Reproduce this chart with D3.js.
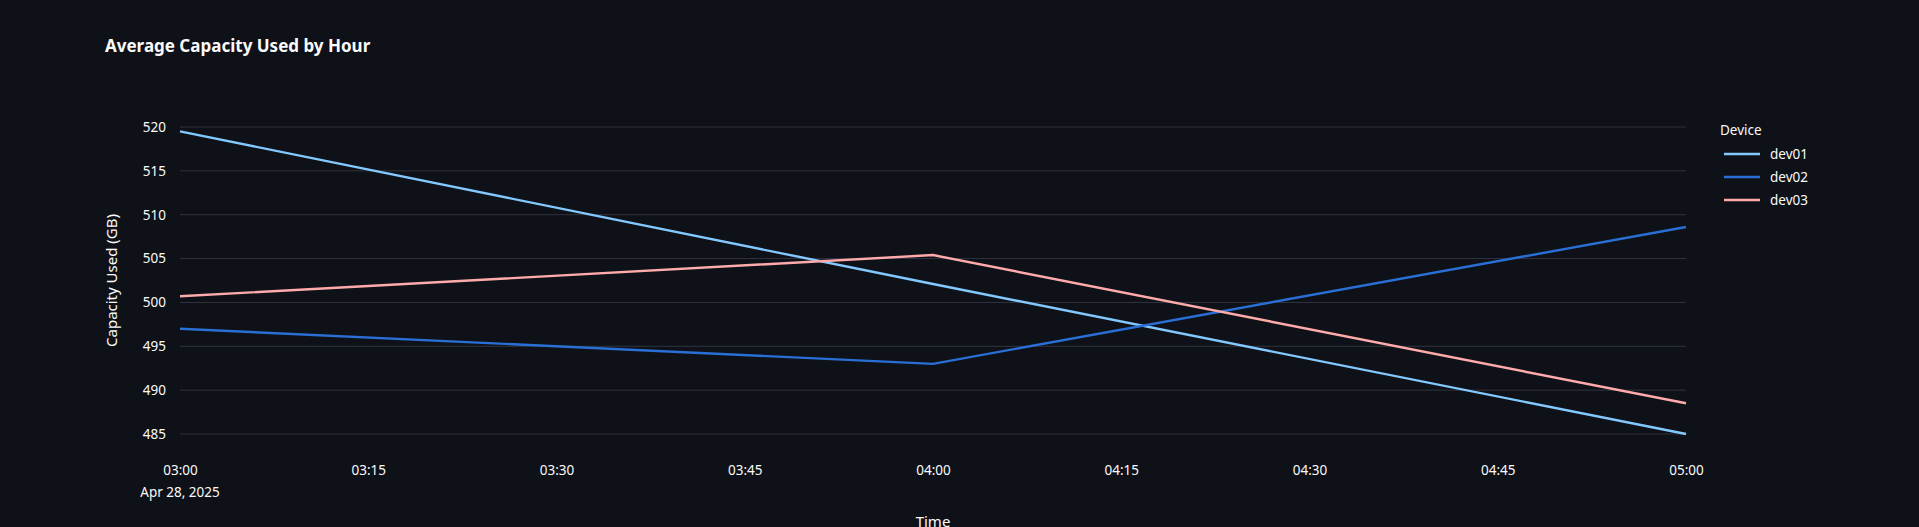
<!DOCTYPE html>
<html><head><meta charset="utf-8">
<script src="https://cdn.jsdelivr.net/npm/d3@7"></script>
<style>
body{margin:0;background:#0e1117;overflow:hidden}
text{font-family:"Noto Sans",sans-serif;fill:#fafafa}
</style></head><body>
<svg id="chart" width="1919" height="527"></svg>
<script>
var times = ["2025-04-28T03:00", "2025-04-28T04:00", "2025-04-28T05:00"];
var devices = ["dev01", "dev02", "dev03"];
var dev01 = [519.5, 502.1, 485.0];
var dev02 = [497.0, 493.0, 508.6];
var dev03 = [500.7, 505.4, 488.5];
var yTicks = [485, 490, 495, 500, 505, 510, 515, 520];
var colors = ["#83c9ff", "#2a6fd6", "#ffabab"];

var parse = d3.timeParse("%Y-%m-%dT%H:%M");
var series = [dev01, dev02, dev03];

var margin = {top: 127, left: 180, right: 1919 - 1686, bottom: 527 - 434};
var width = 1919 - margin.left - margin.right;
var height = 527 - margin.top - margin.bottom;

var svg = d3.select("#chart");
var g = svg.append("g").attr("transform", `translate(${margin.left},${margin.top})`);

var x = d3.scaleTime().domain(d3.extent(times, parse)).range([0, width]);
var y = d3.scaleLinear().domain([485, 520]).range([height, 0]);

// gridlines
g.selectAll(".grid").data(yTicks).enter().append("line")
    .attr("x1", 0).attr("x2", width)
    .attr("y1", d => y(d)).attr("y2", d => y(d))
    .attr("stroke", "#31333f").attr("stroke-width", 1);

// y axis
var yAxis = g.append("g").call(d3.axisLeft(y).tickValues(yTicks).tickSize(0).tickPadding(14));
yAxis.select(".domain").remove();
yAxis.selectAll("text").style("font-size", "13.5px").attr("fill", "#fafafa");

// x axis
var xTicks = d3.timeMinute.every(15).range(x.domain()[0], d3.timeMinute.offset(x.domain()[1], 1));
var xAxis = g.append("g").attr("transform", `translate(0,${height})`)
    .call(d3.axisBottom(x).tickValues(xTicks).tickFormat(d3.timeFormat("%H:%M")).tickSize(0).tickPadding(31));
xAxis.select(".domain").remove();
xAxis.selectAll("text").style("font-size", "13.5px").attr("fill", "#fafafa");
g.append("text").attr("x", 0).attr("y", height + 63).attr("text-anchor", "middle")
    .style("font-size", "13.5px").text("Apr 28, 2025");

// lines
var line = d3.line().x((d, i) => x(parse(times[i]))).y(d => y(d));
series.forEach(function(s, i) {
    g.append("path").datum(s).attr("d", line)
        .attr("fill", "none").attr("stroke", colors[i]).attr("stroke-width", 2.4);
});

// titles
svg.append("text").attr("x", 105).attr("y", 52).style("font-size", "17px")
    .style("font-weight", "bold").text("Average Capacity Used by Hour");
svg.append("text").attr("transform", `translate(117,${margin.top + height / 2}) rotate(-90)`)
    .attr("text-anchor", "middle").style("font-size", "15px").text("Capacity Used (GB)");
svg.append("text").attr("x", margin.left + width / 2).attr("y", 527).attr("text-anchor", "middle")
    .style("font-size", "15px").text("Time");

// legend
var legend = svg.append("g").attr("transform", "translate(1720,130)");
legend.append("text").attr("x", 0).attr("y", 5).style("font-size", "13.5px").text("Device");
devices.forEach(function(d, i) {
    var row = legend.append("g").attr("transform", `translate(0,${24 + i * 23})`);
    row.append("line").attr("x1", 4).attr("x2", 40).attr("y1", 0).attr("y2", 0)
        .attr("stroke", colors[i]).attr("stroke-width", 2.4);
    row.append("text").attr("x", 50).attr("y", 5).style("font-size", "13.5px").text(d);
});
</script>
</body></html>
